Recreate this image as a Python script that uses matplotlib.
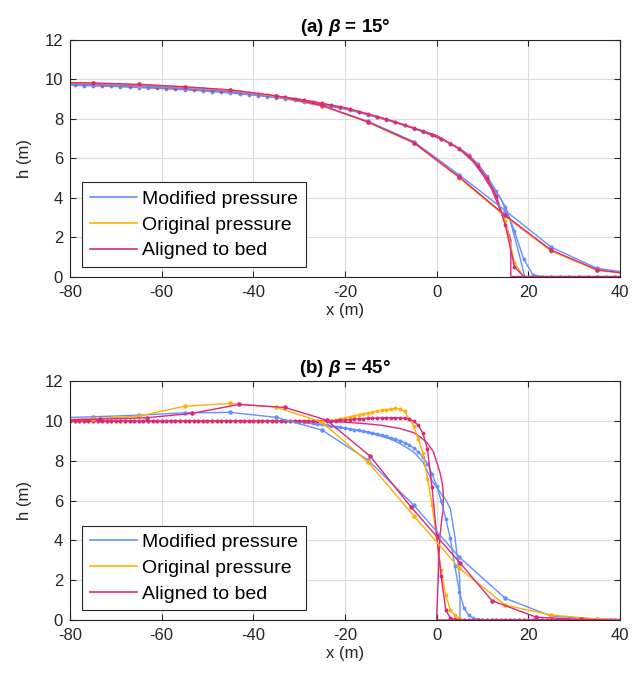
import numpy as np
import matplotlib.pyplot as plt
from matplotlib.lines import Line2D

plt.rcParams['font.family'] = ['Liberation Sans', 'DejaVu Sans']
plt.rcParams['mathtext.fontset'] = 'custom'
plt.rcParams['mathtext.it'] = 'Liberation Sans:italic:bold'
plt.rcParams['mathtext.rm'] = 'Liberation Sans:bold'
plt.rcParams['axes.unicode_minus'] = False

c_mod = '#648FFF'
c_orig = '#FFB000'
c_bed = '#DC267F'
labels = ['Modified pressure', 'Original pressure', 'Aligned to bed']

# ---------------- (a) beta = 15 deg ----------------
# coarse grid (10 m cells)
xa_coarse = np.arange(-85, 46, 10)
a_mod_coarse = [9.75, 9.72, 9.65, 9.55, 9.40, 9.12, 8.65, 7.88, 6.85, 5.15, 3.35, 1.50, 0.42, 0.10]
a_orig_coarse = [9.83, 9.80, 9.73, 9.61, 9.45, 9.15, 8.66, 7.83, 6.77, 5.00, 3.05, 1.30, 0.32, 0.05]
a_bed_coarse = [9.85, 9.82, 9.75, 9.63, 9.47, 9.17, 8.68, 7.85, 6.80, 5.05, 3.10, 1.35, 0.35, 0.05]

# medium grid (2 m cells)
xa_med = np.arange(-79, 40, 2)
a_orig_med = [9.78, 9.77, 9.76, 9.74, 9.73, 9.71, 9.69, 9.67, 9.65, 9.63,
              9.61, 9.58, 9.56, 9.53, 9.50, 9.46, 9.43, 9.39, 9.35, 9.31,
              9.26, 9.21, 9.15, 9.09, 9.02, 8.95, 8.87, 8.78, 8.69, 8.60,
              8.49, 8.37, 8.25, 8.12, 7.98, 7.84, 7.69, 7.53, 7.36, 7.18,
              6.98, 6.75, 6.48, 6.12, 5.62, 4.98, 4.10, 2.80, 0.70, 0.00,
              0.0, 0.0, 0.0, 0.0, 0.0, 0.0, 0.0, 0.0, 0.0, 0.0]
a_bed_med = a_orig_med[:47] + [2.6, 0.5] + [0.0] * 11
a_mod_med = [9.70, 9.69, 9.68, 9.66, 9.65, 9.63, 9.61, 9.59, 9.57, 9.55,
             9.53, 9.50, 9.48, 9.45, 9.42, 9.38, 9.35, 9.31, 9.27, 9.23,
             9.18, 9.13, 9.08, 9.02, 8.95, 8.88, 8.80, 8.72, 8.63, 8.54,
             8.44, 8.33, 8.21, 8.09, 7.96, 7.82, 7.67, 7.51, 7.34, 7.16,
             6.97, 6.76, 6.51, 6.18, 5.72, 5.10, 4.35, 3.55, 2.30, 0.90,
             0.10, 0.0, 0.0, 0.0, 0.0, 0.0, 0.0, 0.0, 0.0, 0.0]

# fine grid (vertices of the smooth curves)
xa_bed_fine = [-80, -70, -60, -50, -40, -30, -20, -10, 0, 5, 8, 10, 12, 14, 15, 16, 16.2, 16.2, 40]
a_bed_fine = [9.80, 9.74, 9.64, 9.50, 9.30, 9.00, 8.57, 7.92, 7.16, 6.47, 5.82, 5.20, 4.45, 3.30, 2.70, 2.00, 1.85, 0.0, 0.0]
xa_mod_fine = [-80, -70, -60, -50, -40, -30, -20, -10, 0, 5, 8, 10, 12, 14, 16, 17.5, 18.5, 19, 19.2, 40]
a_mod_fine = [9.72, 9.66, 9.56, 9.43, 9.23, 8.94, 8.52, 7.88, 7.14, 6.47, 5.85, 5.28, 4.60, 3.95, 2.90, 1.60, 0.70, 0.20, 0.0, 0.0]

# ---------------- (b) beta = 45 deg ----------------
xb_coarse = np.arange(-85, 46, 10)
b_mod_coarse = [10.15, 10.22, 10.30, 10.42, 10.44, 10.19, 9.55, 8.05, 5.78, 3.15, 1.09, 0.20, 0.05, 0.0]
b_orig_coarse = [10.05, 10.13, 10.25, 10.75, 10.89, 10.70, 9.95, 7.95, 5.24, 2.60, 0.75, 0.25, 0.05, 0.0]
xb_bed_coarse = [-83.5, -73.5, -63.3, -53.4, -43.1, -33.1, -24.0, -14.5, -5.6, 5.1, 12.1, 21.8, 31.5, 41.5]
b_bed_coarse = [10.05, 10.10, 10.17, 10.39, 10.84, 10.69, 10.05, 8.24, 5.69, 2.88, 0.97, 0.14, 0.03, 0.0]

# medium grid (1 m cells)
xb_med = np.arange(-80, 41)
b_orig_med = [10.0] * 56 + [10.01, 10.03, 10.07, 10.12, 10.17, 10.22, 10.27, 10.32, 10.37, 10.41,
                            10.45, 10.50, 10.54, 10.58, 10.61, 10.64, 10.62, 10.50, 10.10, 9.75,
                            9.10, 8.40, 7.10, 5.80, 4.10, 2.50, 1.25, 0.50, 0.25, 0.08, 0.0] + [0.0] * 34
b_bed_med = [10.0] * 56 + [10.01, 10.02, 10.03, 10.05, 10.06, 10.08, 10.10, 10.11, 10.13, 10.14,
                           10.15, 10.15, 10.16, 10.17, 10.17, 10.17, 10.16, 10.14, 10.10, 10.00,
                           9.80, 9.40, 8.60, 6.70, 4.30, 2.20, 0.50, 0.10, 0.03, 0.0, 0.0] + [0.0] * 34
b_mod_med = [10.0] * 50 + [9.98, 9.96, 9.94, 9.91, 9.88, 9.84, 9.80, 9.77, 9.73, 9.70,
                           9.66, 9.62, 9.58, 9.54, 9.50, 9.46, 9.41, 9.36, 9.30, 9.23,
                           9.16, 9.09, 9.02, 8.92, 8.80, 8.65, 8.45, 8.20, 7.85, 7.35,
                           6.75, 6.00, 5.10, 4.10, 2.70, 1.40, 0.60, 0.25, 0.10, 0.03] + [0.0] * 31

# fine grid
xb_bed_fine = [-80, -25, -20, -15, -12, -8, -5, -3.6, -2, -0.7, 0.7, 1.3, 1.5, 1.4, 1.0, 0.7, 0.4, 0.1, 0.0, 40]
b_bed_fine = [10.0, 10.0, 9.95, 9.86, 9.79, 9.63, 9.42, 9.21, 8.90, 8.46, 7.45, 6.80, 6.20, 5.50, 4.80, 4.10, 2.40, 0.60, 0.0, 0.0]
xb_mod_fine = [-80, -35, -30, -25, -20, -15, -10, -8, -5, -3, -1, 1, 2, 3, 4, 4.6, 5.0, 5.1, 5.1, 40]
b_mod_fine = [10.0, 10.0, 9.96, 9.80, 9.64, 9.44, 9.10, 8.88, 8.45, 7.95, 7.00, 6.35, 6.05, 5.60, 4.20, 3.00, 2.20, 1.50, 0.0, 0.0]


def draw_panel(ax, title, coarse, med, fine):
    for x, h, c in fine:
        ax.plot(x, h, '-', color=c, lw=1.0)
    for x, h, c in med:
        ax.plot(x, h, '-', color=c, lw=1.0, marker='.', ms=3.5)
    for x, h, c in coarse:
        ax.plot(x, h, '-', color=c, lw=1.0, marker='.', ms=4.5)
    ax.set_xlim(-80, 40)
    ax.set_ylim(0, 12)
    ax.set_xticks(np.arange(-80, 41, 20))
    ax.set_yticks(np.arange(0, 13, 2))
    ax.grid(True, color='#dcdcdc', lw=0.8)
    ax.set_axisbelow(True)
    ax.tick_params(direction='in', top=True, right=True, length=4, width=0.8,
                   labelsize=12, colors='#262626')
    ax.tick_params(axis='x', pad=6)
    ax.tick_params(axis='y', pad=5)
    for sp in ax.spines.values():
        sp.set_color('#262626')
        sp.set_linewidth(0.8)
    ax.set_xlabel('x (m)', fontsize=12, color='#262626', labelpad=2)
    ax.set_ylabel('h (m)', fontsize=12, color='#262626', labelpad=9)
    ax.set_title(title, fontsize=13.5, fontweight='bold', color='black', pad=6)
    handles = [Line2D([], [], color=c, lw=1.2) for c in (c_mod, c_orig, c_bed)]
    leg = ax.legend(handles, labels, loc='lower left', bbox_to_anchor=(0.022, 0.04),
                    fancybox=False, edgecolor='#262626', framealpha=1, fontsize=14,
                    handlelength=2.4, borderpad=0.4, labelspacing=0.42,
                    handletextpad=0.3, borderaxespad=0)
    leg.get_frame().set_linewidth(0.8)


fig = plt.figure(figsize=(6.32, 6.78), dpi=100)
ax1 = fig.add_axes([0.1108, 0.592, 0.870, 0.349])
ax2 = fig.add_axes([0.1108, 0.0855, 0.870, 0.352])

draw_panel(ax1, r'(a) $\beta$ = 15°',
           [(xa_coarse, a_mod_coarse, c_mod), (xa_coarse, a_orig_coarse, c_orig), (xa_coarse, a_bed_coarse, c_bed)],
           [(xa_med, a_mod_med, c_mod), (xa_med, a_orig_med, c_orig), (xa_med, a_bed_med, c_bed)],
           [(xa_mod_fine, a_mod_fine, c_mod), (xa_bed_fine, a_bed_fine, c_bed)])
draw_panel(ax2, r'(b) $\beta$ = 45°',
           [(xb_coarse, b_mod_coarse, c_mod), (xb_coarse, b_orig_coarse, c_orig), (xb_bed_coarse, b_bed_coarse, c_bed)],
           [(xb_med, b_mod_med, c_mod), (xb_med, b_orig_med, c_orig), (xb_med, b_bed_med, c_bed)],
           [(xb_mod_fine, b_mod_fine, c_mod), (xb_bed_fine, b_bed_fine, c_bed)])

fig.savefig('out.png', dpi=100)
